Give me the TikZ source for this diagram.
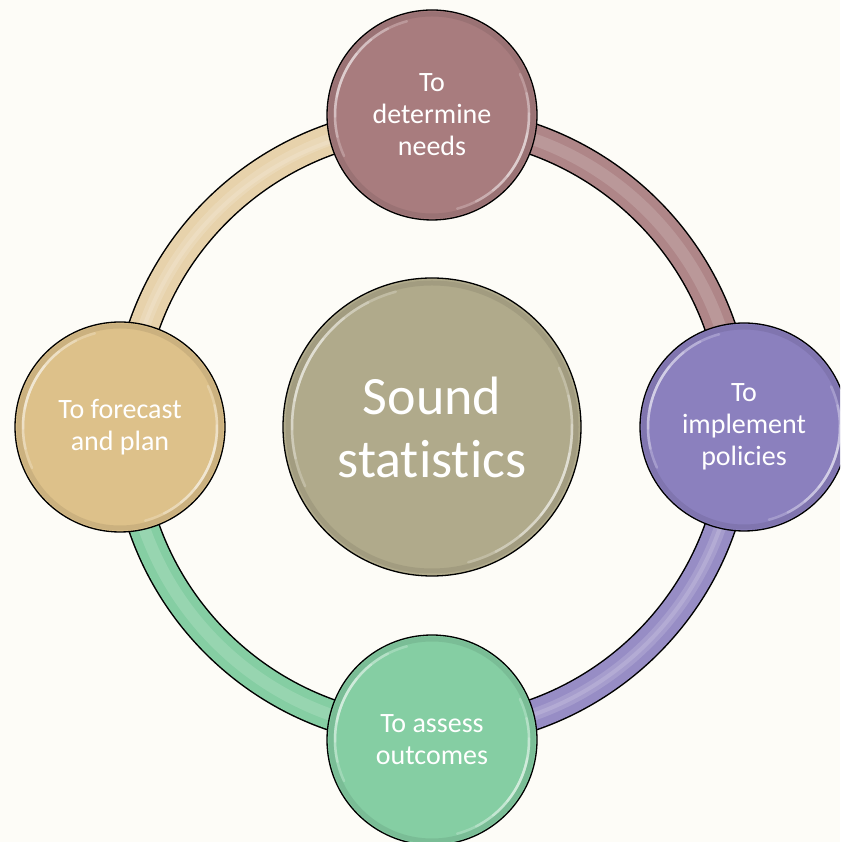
\documentclass[tikz,border=0pt]{standalone}
\usepackage{fontspec}
\setmainfont{Carlito}[Ligatures=NoCommon]
\definecolor{bgcream}{HTML}{FDFCF7}
\definecolor{needsrose}{HTML}{A87C7E}
\definecolor{policyviolet}{HTML}{8B80BE}
\definecolor{outcomegreen}{HTML}{85CEA3}
\definecolor{plantan}{HTML}{DDC18A}
\definecolor{corekhaki}{HTML}{B0AA8B}
\begin{document}
\begin{tikzpicture}[x=1pt,y=1pt,
  bubble/.style={circle,draw=black,line width=1.3pt,minimum size=210pt,inner sep=0pt,
    text=white,align=center,font=\fontsize{28}{32}\selectfont},
  gloss/.style={white,line width=2.5pt,opacity=0.22,line cap=round},
  rim/.style={black,line width=32pt},
  shine/.style={white,line width=12pt,opacity=0.15}]
  \useasboundingbox (0,0) rectangle (840,842);
  \fill[bgcream] (0,0) rectangle (840,842);
  \clip (0,0) rectangle (840,842);
  % centre of the ring
  \coordinate (hub) at (432,415);
  \coordinate (ringtop) at ([shift={(90:305)}]hub);
  \coordinate (ringright) at ([shift={(0:305)}]hub);
  \coordinate (ringbottom) at ([shift={(-90:305)}]hub);
  \coordinate (ringleft) at ([shift={(180:305)}]hub);
  % ring segments
  \draw[rim] (ringtop) arc[start angle=90,end angle=0,radius=305];
  \draw[needsrose!92!white,line width=29pt] (ringtop) arc[start angle=90,end angle=0,radius=305];
  \draw[shine] (ringtop) arc[start angle=90,end angle=0,radius=305];
  \draw[rim] (ringright) arc[start angle=0,end angle=-90,radius=305];
  \draw[policyviolet!90!white,line width=29pt] (ringright) arc[start angle=0,end angle=-90,radius=305];
  \draw[shine] (ringright) arc[start angle=0,end angle=-90,radius=305];
  \draw[shine,line width=4pt] (ringright) arc[start angle=0,end angle=-90,radius=305];
  \draw[rim] (ringbottom) arc[start angle=-90,end angle=-180,radius=305];
  \draw[outcomegreen,line width=29pt] (ringbottom) arc[start angle=-90,end angle=-180,radius=305];
  \draw[shine] (ringbottom) arc[start angle=-90,end angle=-180,radius=305];
  \draw[rim] (ringleft) arc[start angle=180,end angle=90,radius=305];
  \draw[plantan!72!white,line width=29pt] (ringleft) arc[start angle=180,end angle=90,radius=305];
  \draw[shine] (ringleft) arc[start angle=180,end angle=90,radius=305];
  \draw[shine,line width=4pt] (ringleft) arc[start angle=180,end angle=90,radius=302];
  % circles
  \node[bubble,fill=corekhaki,minimum size=298pt,font=\fontsize{54}{63}\selectfont] (core) at (432,415) {Sound\\statistics};
  \node[bubble,fill=needsrose] (needs) at (432,727) {To\\determine\\needs};
  \node[bubble,fill=policyviolet,minimum size=208pt] (policies) at (744,415) {To\\implement\\policies};
  \node[bubble,fill=outcomegreen] (outcomes) at (432,102) {To assess\\outcomes};
  \node[bubble,fill=plantan] (plan) at (120,415) {To forecast\\and plan};
  % glossy highlights
  \foreach \n/\r in {needs/97,policies/96,outcomes/97,plan/97,core/140} {
    \draw[black,opacity=0.08,line width=5pt] (\n.center) circle[radius=\r+4];
    \foreach \s in {50,38,26,14} {
      \draw[gloss] ([shift={(155+\s:\r)}]\n.center) arc[start angle=155+\s,end angle=155-\s,radius=\r];
      \draw[gloss] ([shift={(-25+\s:\r)}]\n.center) arc[start angle=-25+\s,end angle=-25-\s,radius=\r];
    }
  }
\end{tikzpicture}
\end{document}
